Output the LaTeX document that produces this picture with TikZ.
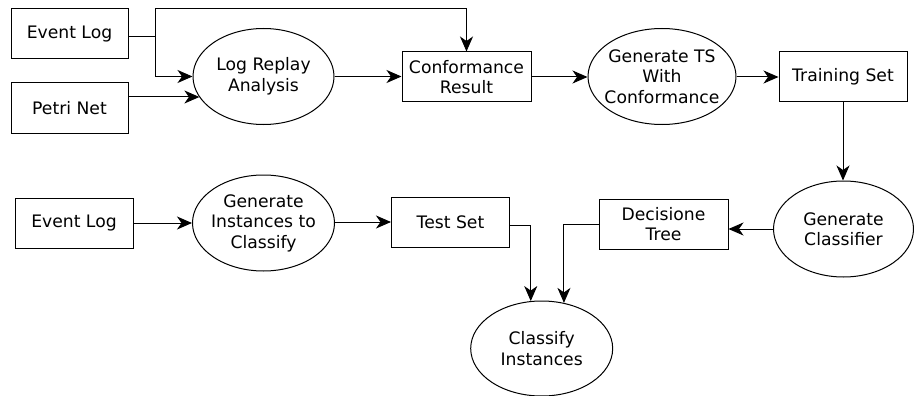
\documentclass[tikz,border=0pt]{standalone}
\usepackage{fontspec}
\setmainfont{DejaVu Sans}
\usepackage{tikz}
\usetikzlibrary{
    positioning,           % Relative positioning
    shapes.geometric,      % Ellipses
    arrows.meta,           % Modern arrow tips
    calc                   % Coordinate calculations
}

\tikzset{
    data/.style={draw, line width=1pt, rectangle, minimum width=#1, minimum height=50pt, inner sep=2pt, align=center, font=\fontsize{17.2}{20.5}\selectfont},
    data/.default=118pt,
    proc/.style={draw, line width=1pt, ellipse, minimum width=#1, minimum height=96pt, inner sep=-8pt, align=center, font=\fontsize{17.2}{20.5}\selectfont},
    proc/.default=141pt,
    flow/.style={line width=1pt, -{Stealth[length=15pt,width=13pt,inset=4.5pt]}}
}

\begin{document}
\begin{tikzpicture}[x=1pt,y=-1pt]
    \useasboundingbox (0,0) rectangle (914,396);

    % first row
    \node[data=117pt] (log1) at (69.5,34) {Event Log};
    \node[data=117pt] (petri) at (69.5,108) {Petri Net};
    \node[proc] (replay) at (263.5,76.5) {Log Replay\\Analysis};
    \node[data=129pt] (conf) at (466.5,77) {Conformance\\Result};
    \node[proc=148pt] (gents) at (662,76.5) {Generate TS\\With\\Conformance};
    \node[data=128pt] (train) at (843,77) {Training Set};

    % second row
    \node[data] (log2) at (74,223) {Event Log};
    \node[proc=142pt] (geninst) at (263.5,223) {Generate\\Instances to\\Classify};
    \node[data] (test) at (450.5,222) {Test Set};
    \node[data=129pt] (tree) at (663.5,224.3) {Decisione\\Tree};
    \node[proc=140pt] (genclf) at (843.5,229) {Generate\\Classifier};
    \node[proc=142pt, minimum height=95pt] (classify) at (541.7,348.5) {Classify\\Instances};

    \coordinate (split) at (155.7,37);

    \draw[line width=1pt] ([yshift=-3pt]log1.east) -- (split);
    \draw[flow] (split) -- ++(0,-28) -| (conf.north);
    \draw[flow] (split) |- (replay.west);
    \draw[flow] ([yshift=11pt]petri.east) -- ([yshift=11pt]petri.east -| replay.198);
    \draw[flow] (replay.east) -- (conf.west |- replay.east);
    \draw[flow] (conf.east) -- (gents.west |- conf.east);
    \draw[flow] (gents.east |- train.west) -- (train.west);
    \draw[flow] (train.south) -- (train.south |- genclf.north);
    \draw[flow] (genclf.west) -- (genclf.west -| tree.east);
    \draw[flow] (log2.east) -- (geninst.west);
    \draw[flow] (geninst.east |- test.west) -- (test.west);
    \draw[flow] ([yshift=-3.7pt]test.east) -| (classify.103);
    \draw[flow] (tree.west) -| (classify.64);
\end{tikzpicture}
\end{document}
